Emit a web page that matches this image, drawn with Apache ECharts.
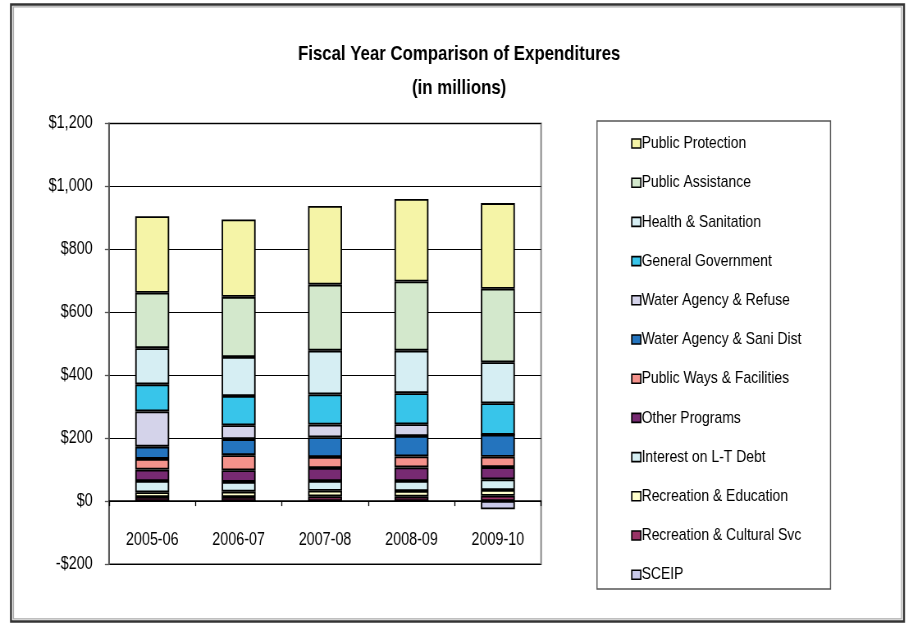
<!DOCTYPE html>
<html>
<head>
<meta charset="utf-8">
<script src="https://cdn.jsdelivr.net/npm/echarts@6/dist/echarts.min.js"></script>
<style>
html,body{margin:0;padding:0;background:#fff;overflow:hidden;width:908px;height:624px;}
#chart{width:1107px;height:624px;transform:scaleX(0.8203);transform-origin:0 0;}
</style>
</head>
<body>
<div id="chart"></div>
<script>
// Categories (fiscal years)
var categories = ['2005-06', '2006-07', '2007-08', '2008-09', '2009-10'];

// Series values (in millions), bottom of stack first
var sceip          = [0, 0, 0, 0, -26];
var recCultural    = [13, 13, 15, 14, 17];
var recEducation   = [15, 17, 18, 18, 18];
var interestDebt   = [36, 31, 31, 32, 34];
var otherPrograms  = [36, 37, 41, 43, 39];
var publicWays     = [34, 48, 35, 35, 33];
var waterSaniDist  = [39, 51, 63, 65, 70];
var waterRefuse    = [112, 44, 40, 37, 0];
var generalGov     = [86, 93, 96, 99, 100];
var healthSan      = [115, 124, 139, 135, 130];
var publicAssist   = [176, 191, 210, 220, 234];
var publicProtect  = [243, 246, 250, 262, 272];

// Y axis tick values
var yTicks = [-200, 0, 200, 400, 600, 800, 1000, 1200];

var seriesDefs = [
  ['SCEIP', sceip, '#C9C9E9'],
  ['Recreation & Cultural Svc', recCultural, '#993366'],
  ['Recreation & Education', recEducation, '#FFFFCC'],
  ['Interest on L-T Debt', interestDebt, '#D6EFF3'],
  ['Other Programs', otherPrograms, '#772A72'],
  ['Public Ways & Facilities', publicWays, '#F4928B'],
  ['Water Agency & Sani Dist', waterSaniDist, '#2474BE'],
  ['Water Agency & Refuse', waterRefuse, '#D4D3EA'],
  ['General Government', generalGov, '#38C5EA'],
  ['Health & Sanitation', healthSan, '#D6EEF3'],
  ['Public Assistance', publicAssist, '#D3E8CC'],
  ['Public Protection', publicProtect, '#F5F4A7']
];

// horizontal condensing factor (emulates the narrow typeface of the original)
var S = 0.8203;
function X(v) { return v / S; }

var FONT = '"Liberation Sans", Arial, sans-serif';

var series = seriesDefs.map(function (d) {
  return {
    name: d[0],
    type: 'bar',
    stack: 'total',
    barWidth: X(34),
    data: d[1],
    itemStyle: { color: d[2], borderColor: '#000', borderWidth: 1.8 },
    emphasis: { disabled: true }
  };
});

var chart = echarts.init(document.getElementById('chart'), null, { renderer: 'canvas' });
chart.setOption({
  animation: false,
  backgroundColor: '#fff',
  title: {
    text: 'Fiscal Year Comparison of Expenditures\n(in millions)',
    left: X(455),
    top: 32,
    textAlign: 'center',
    textStyle: { fontFamily: FONT, fontWeight: 'bold', fontSize: 20.5, lineHeight: 34, color: '#000' }
  },
  legend: {
    orient: 'vertical',
    left: X(627),
    top: 130,
    itemWidth: X(9),
    itemHeight: 9,
    itemGap: 22.2,
    icon: 'rect',
    itemStyle: { borderColor: '#000', borderWidth: 1.6 },
    textStyle: { fontFamily: FONT, fontSize: 17, color: '#000', padding: [0, 0, 0, -4] },
    data: seriesDefs.map(function (d) { return d[0]; }).reverse()
  },
  grid: {
    left: X(109), top: 123.5, right: X(367), bottom: 60,
    show: true, borderColor: '#8a8a8a', borderWidth: 2, backgroundColor: 'transparent'
  },
  xAxis: {
    type: 'category',
    data: categories,
    axisLine: { onZero: true, lineStyle: { color: '#000', width: 1.5 } },
    axisTick: { show: true, alignWithLabel: false, inside: false, length: 5, lineStyle: { color: '#000', width: 1.3 } },
    axisLabel: { fontFamily: FONT, fontSize: 17.5, color: '#000', margin: -33 },
    splitLine: { show: false }
  },
  yAxis: {
    type: 'value',
    min: yTicks[0],
    max: yTicks[yTicks.length - 1],
    interval: 200,
    axisLine: { show: true, lineStyle: { color: '#555', width: 1.8 } },
    axisTick: { show: true, length: 5, lineStyle: { color: '#555', width: 1.3 } },
    axisLabel: {
      fontFamily: FONT, fontSize: 17.5, color: '#000', margin: 20,
      formatter: function (v) {
        var s = Math.abs(v).toLocaleString('en-US');
        return (v < 0 ? '-$' : '$') + s;
      }
    },
    splitLine: { show: true, lineStyle: { color: '#000', width: 1.2 } }
  },
  graphic: [
    { type: 'rect', shape: { x: X(11), y: 4.5, width: X(893), height: 617 }, style: { fill: 'none', stroke: '#333', lineWidth: 2.4 }, silent: true },
    { type: 'rect', shape: { x: X(13.5), y: 6.8, width: X(888), height: 612 }, style: { fill: 'none', stroke: '#aaa', lineWidth: 1.3 }, silent: true },
    { type: 'rect', shape: { x: X(597), y: 121, width: X(233.5), height: 468 }, style: { fill: 'none', stroke: '#555', lineWidth: 1.4 }, silent: true }
  ],
  series: series
});
</script>
</body>
</html>
